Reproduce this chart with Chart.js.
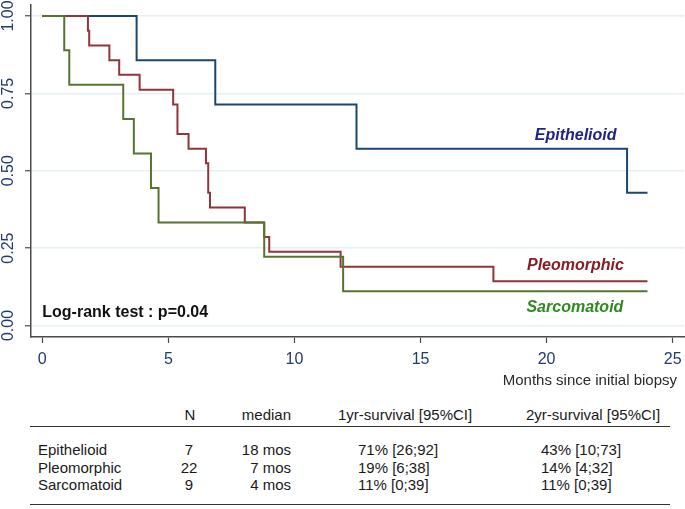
<!DOCTYPE html>
<html>
<head>
<meta charset="utf-8">
<script src="https://cdn.jsdelivr.net/npm/chart.js@4/dist/chart.umd.min.js"></script>
<style>
  body { margin: 0; background: #fff; }
  #wrap { position: relative; width: 685px; height: 509px; font-family: "Liberation Sans", Arial, sans-serif; color: #1a1a1a; }
  #chart-box { position: absolute; left: 0; top: 0; width: 685px; height: 392px; }
  .cell { position: absolute; font-size: 15px; line-height: 18px; white-space: nowrap; }
  .rule { position: absolute; left: 30px; width: 640px; height: 0; border-top: 1.5px solid #333; }
</style>
</head>
<body>
<div id="wrap">
  <div id="chart-box"><canvas id="kmChart" width="685" height="392"></canvas></div>
  <div id="table"></div>
</div>
<script>
// Kaplan-Meier steps, months since biopsy
const epiTimes = [0, 3.74, 6.86, 12.46, 23.19, 24.0];
const epiSurv = [1, 0.857, 0.714, 0.571, 0.429, 0.429];

const pleoTimes = [0, 1.81, 1.86, 2.66, 3.05, 3.86, 5.19, 5.36, 5.80, 6.49, 6.58, 6.65, 8.03, 8.80, 9.00, 11.83, 17.89, 24.0];
const pleoSurv = [1, 0.952, 0.905, 0.857, 0.810, 0.762, 0.714, 0.619, 0.571, 0.524, 0.429, 0.381, 0.333, 0.286, 0.238, 0.190, 0.143, 0.143];

const sarcTimes = [0, 0.87, 1.07, 3.21, 3.63, 4.31, 4.61, 8.80, 11.93, 24.0];
const sarcSurv = [1, 0.889, 0.778, 0.667, 0.556, 0.444, 0.333, 0.222, 0.111, 0.111];

const xTicks = [0, 5, 10, 15, 20, 25];
const yTicks = [0, 0.25, 0.5, 0.75, 1];
const yTickLabels = ["0.00", "0.25", "0.50", "0.75", "1.00"];

// summary table
const groups = ["Epithelioid", "Pleomorphic", "Sarcomatoid"];
const groupN = ["7", "22", "9"];
const medians = ["18 mos", "7 mos", "4 mos"];
const surv1yr = ["71% [26;92]", "19% [6;38]", "11% [0;39]"];
const surv2yr = ["43% [10;73]", "14% [4;32]", "11% [0;39]"];

const tickColor = "#203a72";
const axisColor = "#4a4a4a";

function toPoints(times, surv) {
  return times.map((t, i) => ({ x: t, y: surv[i] }));
}

function stepSet(label, times, surv, color, order) {
  return {
    label,
    data: toPoints(times, surv),
    borderColor: color,
    borderWidth: 2,
    pointRadius: 0,
    stepped: true,
    fill: false,
    order
  };
}

const textPlugin = {
  id: "kmText",
  afterDraw(chart) {
    const { ctx, chartArea } = chart;
    const xs = chart.scales.x;
    const ys = chart.scales.y;
    ctx.save();

    // y tick labels, rotated like the original
    ctx.fillStyle = tickColor;
    ctx.font = "16px 'Liberation Sans', Arial, sans-serif";
    ctx.textAlign = "center";
    ctx.textBaseline = "middle";
    yTicks.forEach((v, i) => {
      ctx.save();
      ctx.translate(9, ys.getPixelForValue(v));
      ctx.rotate(-Math.PI / 2);
      ctx.fillText(yTickLabels[i], 0, 0);
      ctx.restore();
    });

    // x axis title
    ctx.fillStyle = "#2a2a2a";
    ctx.font = "15px 'Liberation Sans', Arial, sans-serif";
    ctx.textAlign = "right";
    ctx.fillText("Months since initial biopsy", chartArea.right - 7, 381);

    // curve labels
    ctx.textAlign = "left";
    ctx.font = "italic bold 16px 'Liberation Sans', Arial, sans-serif";
    ctx.fillStyle = "#1f2585";
    ctx.fillText("Epithelioid", xs.getPixelForValue(19.53), ys.getPixelForValue(0.612));
    ctx.fillStyle = "#8b1c22";
    ctx.fillText("Pleomorphic", xs.getPixelForValue(19.22), ys.getPixelForValue(0.192));
    ctx.fillStyle = "#2f8a1e";
    ctx.fillText("Sarcomatoid", xs.getPixelForValue(19.2), ys.getPixelForValue(0.059));

    ctx.font = "bold 16px 'Liberation Sans', Arial, sans-serif";
    ctx.fillStyle = "#111";
    ctx.fillText("Log-rank test : p=0.04", xs.getPixelForValue(0), ys.getPixelForValue(0.043));
    ctx.restore();
  }
};

new Chart(document.getElementById("kmChart"), {
  type: "line",
  data: {
    datasets: [
      stepSet("Epithelioid", epiTimes, epiSurv, "#1a476f", 3),
      stepSet("Pleomorphic", pleoTimes, pleoSurv, "#90353b", 2),
      stepSet("Sarcomatoid", sarcTimes, sarcSurv, "#55752f", 1)
    ]
  },
  options: {
    responsive: false,
    animation: false,
    layout: { padding: { top: 5, right: 1, left: 0, bottom: 0 } },
    plugins: {
      legend: { display: false },
      tooltip: { enabled: false }
    },
    scales: {
      x: {
        type: "linear",
        min: -0.448,
        max: 25.448,
        afterBuildTicks: (scale) => {
          scale.ticks = xTicks.map((v) => ({ value: v }));
        },
        afterFit: (scale) => {
          scale.height = 55;
          scale.paddingLeft = 0;
          scale.paddingRight = 0;
        },
        grid: { drawOnChartArea: false, tickLength: 6, tickColor: axisColor, tickWidth: 1.2 },
        border: { color: axisColor, width: 1.5 },
        ticks: {
          color: tickColor,
          font: { size: 16, family: "'Liberation Sans', Arial, sans-serif" },
          padding: 7,
          maxRotation: 0,
          autoSkip: false
        }
      },
      y: {
        type: "linear",
        min: -0.0372,
        max: 1.0355,
        afterBuildTicks: (scale) => {
          scale.ticks = yTicks.map((v) => ({ value: v }));
        },
        afterFit: (scale) => {
          scale.width = 31;
          scale.paddingTop = 0;
          scale.paddingBottom = 0;
        },
        grid: { color: "#e6eff2", lineWidth: 1.5, tickLength: 6, tickColor: axisColor, tickWidth: 1.2 },
        border: { color: axisColor, width: 1.5 },
        ticks: { display: false }
      }
    }
  },
  plugins: [textPlugin]
});

// table under the plot
const table = document.getElementById("table");

function addCell(text, x, centerY, align) {
  const el = document.createElement("div");
  el.className = "cell";
  el.textContent = text;
  el.style.top = (centerY - 9) + "px";
  if (align === "right") {
    el.style.right = (685 - x) + "px";
  } else if (align === "center") {
    el.style.left = (x - 40) + "px";
    el.style.width = "80px";
    el.style.textAlign = "center";
  } else {
    el.style.left = x + "px";
  }
  table.appendChild(el);
}

function addRule(y) {
  const el = document.createElement("div");
  el.className = "rule";
  el.style.top = y + "px";
  table.appendChild(el);
}

addCell("N", 190, 415, "center");
addCell("median", 291, 415, "right");
addCell("1yr-survival [95%CI]", 338, 415, "left");
addCell("2yr-survival [95%CI]", 526, 415, "left");
addRule(426);

const rowY = [450, 467.5, 485];
groups.forEach((g, i) => {
  addCell(g, 38, rowY[i], "left");
  addCell(groupN[i], 189, rowY[i], "center");
  addCell(medians[i], 291, rowY[i], "right");
  addCell(surv1yr[i], 358, rowY[i], "left");
  addCell(surv2yr[i], 541, rowY[i], "left");
});
addRule(504);
</script>
</body>
</html>
